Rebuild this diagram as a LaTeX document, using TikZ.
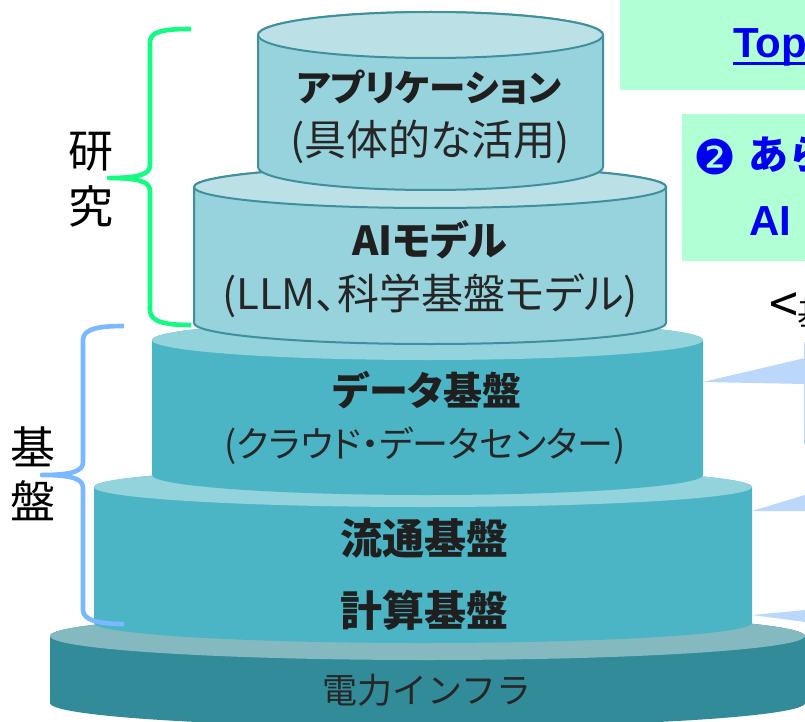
\documentclass[tikz,border=0pt]{standalone}
\usepackage{fontspec}
\setmainfont{Noto Sans CJK JP}
\newfontfamily\paltfont[RawFeature=+palt]{Noto Sans CJK JP}
\newfontfamily\symfont{DejaVu Sans}
\newfontfamily\latinfont{Liberation Sans}
\definecolor{edgeC}{HTML}{3F8F9C}
\definecolor{lightTop}{HTML}{BBE1E7}
\definecolor{lightSide}{HTML}{97D3DD}
\definecolor{midTop}{HTML}{92D3DC}
\definecolor{midSide}{HTML}{4BB5C6}
\definecolor{baseTop}{HTML}{84B9C0}
\definecolor{baseSide}{HTML}{318B99}
\definecolor{mintBox}{HTML}{B0FFD5}
\definecolor{callout}{HTML}{BBD8FB}
\definecolor{brGreen}{HTML}{14FB84}
\definecolor{brBlue}{HTML}{7AB8FF}
\definecolor{inkBlue}{HTML}{0000F0}
\newcommand{\fs}[1]{\fontsize{#1}{#1}\selectfont}
\tikzset{
  x=1pt,y=-1pt,
  mainlab/.style={text=black!88,inner sep=0pt},
  sublab/.style={text=black!85,inner sep=0pt},
  sidelab/.style={font=\fs{45},text=black,inner sep=0pt},
  bluelab/.style={text=inkBlue,inner sep=0pt,anchor=west},
  bracegreen/.style={draw=brGreen,line width=4.6pt,line join=round},
  braceblue/.style={draw=brBlue,line width=4.6pt,line join=round},
}
% #1 xl, #2 xr, #3 top y, #4 bottom y, #5 ry, #6 side fill, #7 top fill, #8 draw option
\newcommand{\tier}[8]{%
  \pgfmathsetmacro{\rx}{(#2-#1)/2}%
  \path[fill=#6,#8] (#1,#3) -- (#1,#4) arc[start angle=180,end angle=360,x radius=\rx,y radius=-#5] -- (#2,#3) arc[start angle=0,end angle=180,x radius=\rx,y radius=-#5] -- cycle;
  \path[fill=#7,#8] (#1,#3) arc[start angle=180,end angle=540,x radius=\rx,y radius=-#5] -- cycle;
}
\begin{document}
\begin{tikzpicture}
\useasboundingbox (0,0) rectangle (805,722);
\begin{scope}
\clip (0,0) rectangle (805,722);
\fill[white] (0,0) rectangle (805,722);
% mint boxes
\fill[mintBox] (620,0) rectangle (805,90);
\fill[mintBox] (682,114) rectangle (805,261);
\node[bluelab,font=\fs{42}\bfseries\latinfont,anchor=base west] (toptext) at (733,58) {Top};
\fill[inkBlue] (733,62) rectangle (805,65);
\node[bluelab,font=\fs{48}\symfont] (circled) at (693,157) {❷};
\node[bluelab,font=\fs{40}\bfseries] (secondtext) at (748,155) {あら};
\node[bluelab,font=\fs{42}\bfseries\latinfont] (aitext) at (749,221) {AI};
\node[font=\fs{52},anchor=west,inner sep=0pt] (kijun) at (769,308) {<};
\node[font=\fs{32},anchor=west,inner sep=0pt] (kijunb) at (797,313) {基};
% callouts
\fill[callout] (804,342) rectangle (805,444);
\fill[callout] (703,382) -- (805,358) -- (805,384) -- cycle;
\fill[callout] (752,511) -- (805,495) -- (805,511) -- cycle;
\fill[callout] (752,615) -- (805,610) -- (805,622) -- cycle;
% tiers bottom to top
\tier{50}{805}{636}{703}{24}{baseSide}{baseTop}{}
\tier{94}{752}{487}{623}{20}{midSide}{midTop}{}
\tier{152}{703}{340}{475}{20}{midSide}{midTop}{}
\tier{194}{666}{187}{323}{21}{lightSide}{lightTop}{draw=edgeC,line width=2pt}
\tier{258}{603}{35}{167}{23}{lightSide}{lightTop}{draw=edgeC,line width=2pt}
% labels
\node[mainlab,font=\fs{36.5}\bfseries\paltfont] (app) at (429,87) {アプリケーション};
\node[sublab,font=\fs{42}\paltfont] (appsub) at (430,142) {(具体的な活用)};
\node[mainlab,font=\fs{40}\bfseries\paltfont] (aim) at (430,240) {AIモデル};
\node[sublab,font=\fs{42}\paltfont] (aimsub) at (430,296) {(LLM、科学基盤モデル)};
\node[mainlab,font=\fs{39}\bfseries\paltfont] (data) at (427,390) {データ基盤};
\node[sublab,font=\fs{36}\paltfont] (datasub) at (425,446) {(クラウド・データセンター)};
\node[mainlab,font=\fs{42}\bfseries\paltfont] (flow) at (424,538) {流通基盤};
\node[mainlab,font=\fs{42}\bfseries\paltfont] (comp) at (424,610) {計算基盤};
\node[sublab,font=\fs{35}] (power) at (427,690) {電力インフラ};
% braces
\draw[bracegreen] (191,29) .. controls (165,29) and (150,31) .. (150,42) -- (150,165) .. controls (150,174) and (140,178) .. (109,178) .. controls (140,178) and (150,182) .. (150,191) -- (150,310) .. controls (150,322) and (165,325) .. (191,325);
\draw[braceblue] (124,326) .. controls (98,326) and (83,329) .. (83,340) -- (83,462) .. controls (83,471) and (73,475) .. (42,475) .. controls (73,475) and (83,479) .. (83,488) -- (83,610) .. controls (83,620) and (98,624) .. (124,624);
\node[sidelab] (ken) at (91,152) {研};
\node[sidelab] (kyu) at (91,206) {究};
\node[sidelab] (ki) at (33,447) {基};
\node[sidelab] (ban) at (33,501) {盤};
\end{scope}
\end{tikzpicture}
\end{document}
